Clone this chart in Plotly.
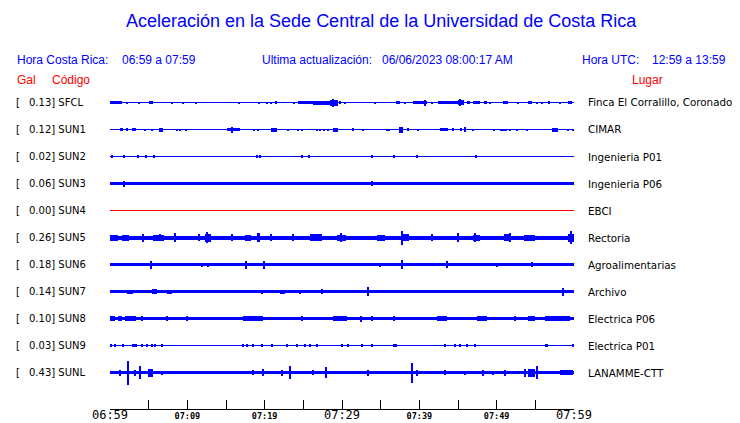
import plotly.graph_objects as go

# ---------------- data ----------------
CODES = ["SFCL", "SUN1", "SUN2", "SUN3", "SUN4", "SUN5", "SUN6", "SUN7", "SUN8", "SUN9", "SUNL"]
GAL = [0.13, 0.12, 0.02, 0.06, 0.00, 0.26, 0.18, 0.14, 0.10, 0.03, 0.43]
PLACES = ["Finca El Corralillo, Coronado", "CIMAR", "Ingenieria P01", "Ingenieria P06", "EBCI",
          "Rectoria", "Agroalimentarias", "Archivo", "Electrica P06", "Electrica P01", "LANAMME-CTT"]

# background (noise) amplitude per station
NOISE = [0.5, 0.5, 0.5, 1.7, 0.5, 2.0, 1.4, 1.5, 1.8, 0.5, 1.7]

# events per station: (start minute, end minute, amplitude)
SFCL_EV = [(0.0, 1.6, 1.5), (2.2, 2.2, 1), (3.75, 3.75, 1), (5.0, 5.6, 1.5), (8.0, 8.0, 1), (9.4, 9.4, 1),
           (11.1, 11.1, 1), (16.7, 16.7, 1), (19.3, 19.3, 1), (20.3, 20.3, 1), (20.8, 20.8, 1),
           (21.5, 21.5, 1.5), (23.8, 23.8, 1), (24.3, 26.2, 1.5), (26.2, 28.4, 2), (28.4, 29.5, 3),
           (28.9, 28.9, 4), (29.7, 29.7, 1.5), (30.4, 30.4, 1), (34.3, 34.3, 1), (37.0, 37.5, 1.5),
           (38.1, 38.1, 1), (39.2, 41.0, 1.5), (40.7, 40.7, 3), (41.6, 41.6, 1), (42.4, 45.0, 1.5),
           (45.0, 45.8, 2.5), (45.3, 45.3, 3.5), (46.2, 46.6, 1.5), (46.9, 47.8, 1.5), (48.4, 48.7, 1.5),
           (49.1, 49.1, 1), (50.8, 51.5, 1.5), (52.8, 52.8, 1), (54.0, 54.6, 1.5), (55.2, 55.2, 1),
           (55.9, 55.9, 1), (56.8, 56.8, 1.5), (58.2, 58.2, 1), (59.2, 59.7, 1.5)]
SUN1_EV = [(1.3, 1.7, 1.5), (2.2, 2.2, 1.5), (2.85, 3.35, 1.5), (4.5, 4.5, 1), (5.5, 5.5, 1), (6.35, 6.85, 2),
           (8.65, 8.65, 1), (9.05, 9.05, 1), (9.85, 9.85, 1), (15.1, 16.8, 1.5), (15.8, 15.8, 3),
           (18.6, 18.6, 1), (19.1, 19.1, 1), (20.8, 21.6, 2), (23.0, 23.0, 1), (24.3, 24.3, 1),
           (24.8, 24.8, 1), (26.8, 26.8, 1), (27.2, 27.2, 1), (27.7, 27.7, 1), (28.2, 28.2, 1),
           (28.8, 29.5, 2), (31.4, 31.4, 1.5), (32.7, 32.7, 1), (35.7, 36.2, 1), (37.4, 37.9, 3),
           (38.5, 38.5, 1.5), (39.8, 39.8, 1), (42.7, 43.7, 1.5), (44.35, 44.35, 1.5), (45.4, 45.4, 1.5),
           (45.9, 45.9, 2.5), (47.0, 47.0, 1), (49.7, 49.7, 1), (50.4, 51.3, 1), (51.7, 51.7, 1),
           (52.6, 52.6, 1), (53.9, 53.9, 1), (57.1, 57.9, 2), (59.2, 59.2, 1), (59.9, 59.9, 1)]
SUN2_EV = [(0.26, 0.26, 1.5), (1.81, 1.81, 1.5), (3.62, 3.62, 1.5), (4.66, 4.66, 1.5), (5.69, 5.69, 1.5),
           (19.0, 19.0, 1.5), (19.4, 19.4, 1.5), (24.8, 24.8, 1.5), (25.7, 25.7, 1.5), (33.9, 33.9, 1.5),
           (36.7, 36.7, 1.5), (39.7, 39.7, 1.5), (47.3, 47.3, 1.5)]
SUN3_EV = [(1.8, 1.8, 3), (33.9, 33.9, 2.5)]
SUN4_EV = []
SUN5_EV = [(0.0, 1.0, 3), (1.5, 2.5, 3), (4.3, 4.3, 4), (5.5, 7.0, 3), (6.5, 6.5, 3.5), (8.4, 8.4, 4.5),
           (11.5, 11.5, 3.5), (12.3, 13.0, 4), (12.6, 12.6, 5.5), (15.8, 15.8, 3.5), (17.5, 18.2, 3),
           (19.0, 19.4, 4.5), (20.8, 20.8, 3.5), (23.7, 23.7, 3.5), (25.8, 27.4, 3.5), (29.4, 30.5, 3),
           (29.9, 29.9, 4.5), (34.5, 35.5, 3), (37.6, 38.6, 3.5), (37.8, 37.8, 7), (41.6, 41.6, 3.5),
           (45.0, 45.0, 4.5), (47.0, 47.8, 3), (47.2, 47.2, 4.5), (51.0, 51.8, 3.5), (51.7, 51.7, 4.5),
           (53.5, 55.0, 3), (59.2, 60.0, 4), (59.6, 59.6, 6.5)]
SUN6_EV = [(5.3, 5.3, 4), (11.9, 11.9, 2), (12.7, 12.7, 2), (17.6, 17.6, 4), (19.9, 19.9, 4),
           (34.9, 34.9, 2), (37.8, 37.8, 4.5), (43.6, 43.6, 3.5), (50.0, 50.0, 2), (54.6, 54.6, 2.5)]
SUN7_EV = [(2.2, 3.0, 2), (5.4, 6.1, 2.5), (7.4, 8.0, 2), (19.7, 19.7, 2), (22.0, 22.6, 2), (24.6, 24.6, 2),
           (27.4, 27.4, 2.5), (33.4, 33.4, 4.5), (58.6, 58.6, 4)]
SUN8_EV = [(0.0, 0.6, 2.1), (1.0, 1.5, 2.1), (2.0, 3.4, 2.2), (4.2, 4.2, 2.5), (7.4, 7.4, 2.3),
           (10.0, 10.0, 2.3), (17.2, 19.8, 2.1), (24.8, 24.8, 2.5), (28.8, 30.7, 2.1), (32.4, 32.4, 3),
           (33.9, 33.9, 2.5), (36.7, 36.7, 2.5), (42.3, 43.6, 2.1), (47.5, 48.8, 2.1), (52.4, 52.4, 2.5),
           (54.0, 55.0, 2.1), (56.2, 59.5, 2.1)]
SUN9_EV = [(0.13, 0.13, 1.5), (0.65, 0.65, 1.5), (1.68, 1.68, 1.5), (2.85, 3.5, 1.5), (4.14, 4.14, 1.5),
           (4.78, 4.78, 1.5), (5.43, 5.43, 1.5), (5.82, 5.82, 1.5), (6.72, 6.72, 1.5), (17.2, 17.2, 1.5),
           (17.7, 17.7, 1.5), (18.5, 18.5, 1.5), (19.7, 19.7, 1.5), (20.95, 20.95, 1.5), (22.9, 22.9, 1.5),
           (24.2, 24.2, 1.5), (25.2, 25.2, 1.5), (25.9, 25.9, 1.5), (26.8, 26.8, 1.5), (30.0, 30.0, 1.5),
           (30.8, 30.8, 1.5), (32.6, 32.6, 1.5), (33.9, 33.9, 1.5), (36.6, 37.1, 1.5), (43.3, 43.3, 1.5),
           (44.6, 44.6, 1.5), (45.3, 45.3, 1.5), (46.2, 46.2, 1.5), (47.2, 47.2, 1.5), (56.25, 56.6, 1.5),
           (59.87, 59.87, 1.5)]
SUNL_EV = [(1.3, 1.3, 3), (2.35, 2.35, 12), (3.25, 3.25, 3), (3.9, 3.9, 6.5), (4.9, 5.5, 4), (6.7, 6.7, 2),
           (18.5, 18.5, 2.5), (19.8, 19.8, 3.5), (22.2, 22.2, 3), (23.3, 23.3, 6.5), (26.2, 26.2, 2.5),
           (27.9, 27.9, 5.5), (33.4, 33.4, 3), (39.0, 39.0, 10), (39.7, 39.7, 3), (43.3, 43.3, 2.5),
           (45.9, 45.9, 2), (48.2, 48.2, 3), (49.5, 49.5, 2), (51.1, 51.1, 3), (53.7, 53.7, 4),
           (54.1, 54.9, 4), (55.2, 55.2, 6.3), (58.2, 59.9, 2.5)]
EVENTS = [SFCL_EV, SUN1_EV, SUN2_EV, SUN3_EV, SUN4_EV, SUN5_EV, SUN6_EV, SUN7_EV, SUN8_EV, SUN9_EV, SUNL_EV]

TICK_MINUTES = list(range(0, 61, 5))
TICK_LABELS = ["06:59", "", "07:09", "", "07:19", "", "07:29", "", "07:39", "", "07:49", "", "07:59"]
BIG_LABELS = ["06:59", "07:29", "07:59"]

TITLE = "Aceleración en la Sede Central de la Universidad de Costa Rica"

# ---------------- layout helpers ----------------
# the page body has an 8px margin, so the figure is made 8px smaller and
# all target (page) pixel positions are shifted by that offset
OFF = 8
W, H = 740 - OFF, 423 - OFF
PL, PR, PT, PB = 110, 574, 88, 409          # plot area in page pixels
ROW0, ROWSTEP = 102.5, 27
MIN_W = 0.14
BLUE = "#0000ff"
RED = "#ff0000"


def px(x):
    return (x - PL) / (PR - PL)


def py(y):
    return (PB - y) / (PB - PT)


fig = go.Figure()

for i, code in enumerate(CODES):
    yc = ROW0 + ROWSTEP * i
    color = RED if code == "SUN4" else BLUE
    xs, hs, bs, ws = [30.0], [2 * NOISE[i]], [yc - NOISE[i]], [60.0]
    for (t0, t1, a) in EVENTS[i]:
        w = max(t1 - t0, MIN_W)
        xs.append((t0 + t1) / 2)
        ws.append(w)
        hs.append(2 * a)
        bs.append(yc - a)
    fig.add_trace(go.Bar(x=xs, y=hs, base=bs, width=ws, marker_color=color,
                         marker_line_width=0, showlegend=False, hoverinfo="skip"))

ticktext = []
for lab in TICK_LABELS:
    if lab == "" or lab in BIG_LABELS:
        ticktext.append(lab)
    else:
        ticktext.append("<span style='font-size:8.5px'><b>" + lab + "</b></span>")

fig.update_layout(
    width=W, height=H,
    margin=dict(l=PL - OFF, r=(W + OFF) - PR, t=PT - OFF, b=(H + OFF) - PB, pad=0),
    paper_bgcolor="white", plot_bgcolor="white",
    barmode="overlay", bargap=0,
    showlegend=False,
    xaxis=dict(range=[0, 60], showgrid=False, zeroline=False, showline=True, linecolor="black",
               linewidth=1, ticks="inside", ticklen=9, tickcolor="black", tickwidth=1,
               tickvals=TICK_MINUTES, ticktext=ticktext, automargin=False,
               ticklabelstandoff=-5,
               tickfont=dict(family="DejaVu Sans Mono", size=12, color="black")),
    yaxis=dict(range=[PB, PT], visible=False, showgrid=False, zeroline=False),
)

# time axis baseline (drawn explicitly so it is always visible)
fig.add_shape(type="line", xref="x", yref="paper", x0=0, x1=60, y0=py(PB + 0.5), y1=py(PB + 0.5),
              line=dict(color="black", width=1), layer="above")

anns = []


def add_text(x, y, text, size, color, family="Liberation Sans", anchor="left"):
    anns.append(dict(x=px(x), y=py(y), xref="paper", yref="paper", text=text, showarrow=False,
                     xanchor=anchor, yanchor="middle",
                     font=dict(family=family, size=size, color=color)))


add_text(381, 21, TITLE, 18, BLUE, anchor="center")
add_text(15, 60, "Hora Costa Rica:", 12, BLUE)
add_text(120, 60, "06:59 a 07:59", 12, BLUE)
add_text(260, 60, "Ultima actualización:", 12, BLUE)
add_text(380, 60, "06/06/2023 08:00:17 AM", 12, BLUE)
add_text(580, 60, "Hora UTC:", 12, BLUE)
add_text(650, 60, "12:59 a 13:59", 12, BLUE)
add_text(15, 80, "Gal", 12, RED)
add_text(50, 80, "Código", 12, RED)
add_text(630, 80, "Lugar", 12, RED)

for i, code in enumerate(CODES):
    yc = ROW0 + ROWSTEP * i
    add_text(14, yc, "[", 10, "black", family="DejaVu Sans")
    add_text(27, yc, f"{GAL[i]:.2f}] {code}", 10, "black", family="DejaVu Sans")
    add_text(586, yc, PLACES[i], 10.3, "black", family="DejaVu Sans")

fig.update_layout(annotations=anns)
fig.write_html("out.html")
